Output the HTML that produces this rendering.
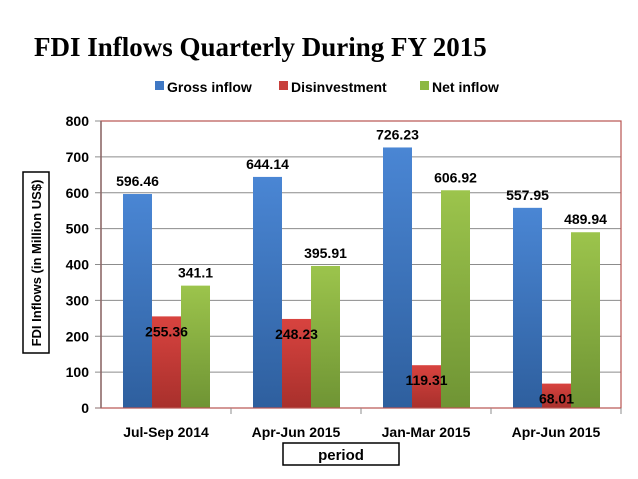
<!DOCTYPE html>
<html><head><meta charset="utf-8"><style>
html,body{margin:0;padding:0;background:#fff;width:638px;height:479px;overflow:hidden}
svg text{font-family:"Liberation Sans",sans-serif}
</style></head><body>
<svg width="638" height="479" viewBox="0 0 638 479">
<defs>
<linearGradient id="gb" x1="0" y1="0" x2="0" y2="1"><stop offset="0" stop-color="#4a86d4"/><stop offset="1" stop-color="#2e5f9e"/></linearGradient>
<linearGradient id="gr" x1="0" y1="0" x2="0" y2="1"><stop offset="0" stop-color="#d8433f"/><stop offset="1" stop-color="#a8302c"/></linearGradient>
<linearGradient id="gg" x1="0" y1="0" x2="0" y2="1"><stop offset="0" stop-color="#9cc44c"/><stop offset="1" stop-color="#6f9434"/></linearGradient>
</defs>
<text x="34" y="56" font-family="Liberation Serif,serif" font-size="27" font-weight="bold" fill="#000" style="font-family:'Liberation Serif',serif">FDI Inflows Quarterly During FY 2015</text>
<g id="legend" font-size="14" font-weight="bold">
<rect x="155" y="81" width="9" height="9" fill="#3f78c4"/>
<text x="167" y="92">Gross inflow</text>
<rect x="279" y="81" width="9" height="9" fill="#c8403c"/>
<text x="291" y="92">Disinvestment</text>
<rect x="420" y="81" width="9" height="9" fill="#8db844"/>
<text x="432" y="92">Net inflow</text>
</g>
<g id="grid"></g>
<g id="bars"></g>
<g id="labels" font-size="14" font-weight="bold"></g>
<rect x="101" y="121" width="520" height="287" fill="none" stroke="#b85450" stroke-width="1.2"/>
<line x1="101" y1="121" x2="101" y2="408" stroke="#8a6b6b" stroke-width="1.5"/>
<g id="axes" font-size="14" font-weight="bold"></g>
<rect x="23" y="172" width="26" height="181" fill="#fff" stroke="#000" stroke-width="1.5"/>
<text transform="translate(41,263) rotate(-90)" text-anchor="middle" font-size="13" font-weight="bold">FDI Inflows (in Million US$)</text>
<rect x="283" y="443" width="116" height="22" fill="#fff" stroke="#000" stroke-width="1.5"/>
<text x="341" y="460" text-anchor="middle" font-size="15" font-weight="bold">period</text>
</svg>
<script>
const categories = ["Jul-Sep 2014","Apr-Jun 2015","Jan-Mar 2015","Apr-Jun 2015"];
const grossInflow = [596.46, 644.14, 726.23, 557.95];
const disinvestment = [255.36, 248.23, 119.31, 68.01];
const netInflow = [341.1, 395.91, 606.92, 489.94];
const yTicks = [0,100,200,300,400,500,600,700,800];

const NS="http://www.w3.org/2000/svg";
const X0=101, X1=621, Y0=408, Y1=121, YMAX=800;
const catW=(X1-X0)/categories.length, barW=29, off=22;
function y(v){return Y0-(v/YMAX)*(Y0-Y1);}
function xBar(i,s){return X0+i*catW+off+s*barW;}
function mk(tag,attrs,parent){const e=document.createElementNS(NS,tag);for(const k in attrs)e.setAttribute(k,attrs[k]);parent.appendChild(e);return e;}
const grid=document.getElementById('grid'),bars=document.getElementById('bars'),labels=document.getElementById('labels'),axes=document.getElementById('axes');
yTicks.forEach(t=>{
  const l=mk('line',{x1:X0-6,x2:X1,y1:y(t),y2:y(t),stroke:t===0?'#8a6b6b':'#8c8c8c','stroke-width':1},grid);
  
  
  const tx=mk('text',{x:X0-12,y:y(t)+5,'text-anchor':'end'},axes);
  tx.textContent=t;
  
  
});
categories.forEach((c,i)=>{
  const tk=mk('line',{x1:X0+(i+1)*catW,x2:X0+(i+1)*catW,y1:Y0,y2:Y0+6,stroke:'#8c8c8c'},axes);
  
  
  const tx=mk('text',{x:X0+(i+0.5)*catW,y:437,'text-anchor':'middle'},axes);
  tx.textContent=c;
  
  
});
const series=[[grossInflow,'url(#gb)','gross'],[disinvestment,'url(#gr)','disinvestment'],[netInflow,'url(#gg)','net']];
series.forEach(([vals,fill,name],s)=>{
  vals.forEach((v,i)=>{
    const r=mk('rect',{x:xBar(i,s),y:y(v),width:barW,height:Y0-y(v),fill:fill},bars);
    
    
    const ly = s===1 ? y(v)+20 : y(v)-8;
    const t=mk('text',{x:xBar(i,s)+barW/2,y:ly,'text-anchor':'middle'},labels);
    t.textContent=String(v);
    
    
  });
});
</script>
</body></html>
